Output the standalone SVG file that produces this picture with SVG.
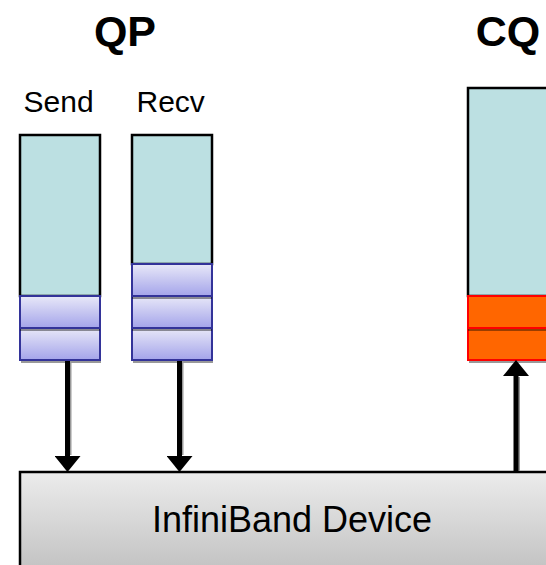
<svg xmlns="http://www.w3.org/2000/svg" width="546" height="565" viewBox="0 0 546 565">
  <style>
    .title { font-family: "Liberation Sans", Arial, sans-serif; font-weight: bold; font-size: 43px; fill: #000; text-anchor: middle; }
    .label { font-family: "Liberation Sans", Arial, sans-serif; font-size: 30px; fill: #000; }
    .dev { font-family: "Liberation Sans", Arial, sans-serif; font-size: 36px; fill: #000; text-anchor: middle; }
    .queue { fill: #bce0e2; stroke: #000; stroke-width: 2.5; }
    .slot { fill: url(#slotGrad); stroke: #333399; stroke-width: 2; }
    .cqslot { fill: #ff6600; stroke: #ff0000; stroke-width: 2; }
    .shadow { fill: #000; fill-opacity: 0.4; }
    .conn { stroke: #000; stroke-width: 5; fill: none; }
    .connShadow { stroke: #999; stroke-width: 5; fill: none; }
  </style>
  <defs>
    <linearGradient id="slotGrad" x1="0" y1="0" x2="0" y2="1">
      <stop offset="0" stop-color="#e8e8f8"/>
      <stop offset="1" stop-color="#a4a4ea"/>
    </linearGradient>
    <linearGradient id="devGrad" x1="0" y1="0" x2="0" y2="1">
      <stop offset="0" stop-color="#ececec"/>
      <stop offset="1" stop-color="#bdbdbd"/>
    </linearGradient>
    <marker id="head" markerUnits="userSpaceOnUse" markerWidth="16" markerHeight="26" viewBox="0 0 16 26" refX="0" refY="13" orient="auto">
      <path d="M0,0 L16,13 L0,26 z" fill="#000"/>
    </marker>
  </defs>

  <g id="titles">
    <text class="title" x="125" y="46">QP</text>
    <text class="title" x="508" y="46">CQ</text>
  </g>

  <g id="send-queue">
    <text class="label" x="23.5" y="111.5">Send</text>
    <rect class="shadow" x="21" y="138" width="80" height="225"/>
    <rect class="queue" x="20" y="135" width="80" height="161"/>
    <rect class="slot" x="20" y="328" width="80" height="32"/>
    <rect class="shadow" x="20" y="299" width="80" height="32"/>
    <rect class="slot" x="20" y="296" width="80" height="32"/>
  </g>

  <g id="recv-queue">
    <text class="label" x="136.5" y="111.5">Recv</text>
    <rect class="shadow" x="133" y="138" width="80" height="225"/>
    <rect class="queue" x="132" y="135" width="80" height="129"/>
    <rect class="slot" x="132" y="328" width="80" height="32"/>
    <rect class="shadow" x="132" y="299" width="80" height="32"/>
    <rect class="slot" x="132" y="296" width="80" height="32"/>
    <rect class="shadow" x="132" y="267" width="80" height="32"/>
    <rect class="slot" x="132" y="264" width="80" height="32"/>
  </g>

  <g id="completion-queue">
    <rect class="shadow" x="469" y="91" width="100" height="272"/>
    <rect class="queue" x="468" y="88" width="100" height="208"/>
    <rect class="cqslot" x="468" y="328" width="100" height="32"/>
    <rect class="shadow" x="468" y="299" width="100" height="32"/>
    <rect class="cqslot" x="468" y="296" width="100" height="32"/>
  </g>

  <g id="infiniband-device">
    <rect x="20" y="472" width="540" height="110" fill="url(#devGrad)" stroke="#000" stroke-width="2.5"/>
    <text class="dev" x="292" y="532">InfiniBand Device</text>
  </g>

  <g id="connectors">
    <line class="connShadow" x1="69" y1="361" x2="69" y2="455"/>
    <line class="conn" x1="67.5" y1="361" x2="67.5" y2="456" marker-end="url(#head)"/>
    <line class="connShadow" x1="181" y1="361" x2="181" y2="455"/>
    <line class="conn" x1="179.5" y1="361" x2="179.5" y2="456" marker-end="url(#head)"/>
    <line class="connShadow" x1="517.5" y1="471" x2="517.5" y2="377"/>
    <line class="conn" x1="516" y1="471" x2="516" y2="376" marker-end="url(#head)"/>
  </g>
</svg>
